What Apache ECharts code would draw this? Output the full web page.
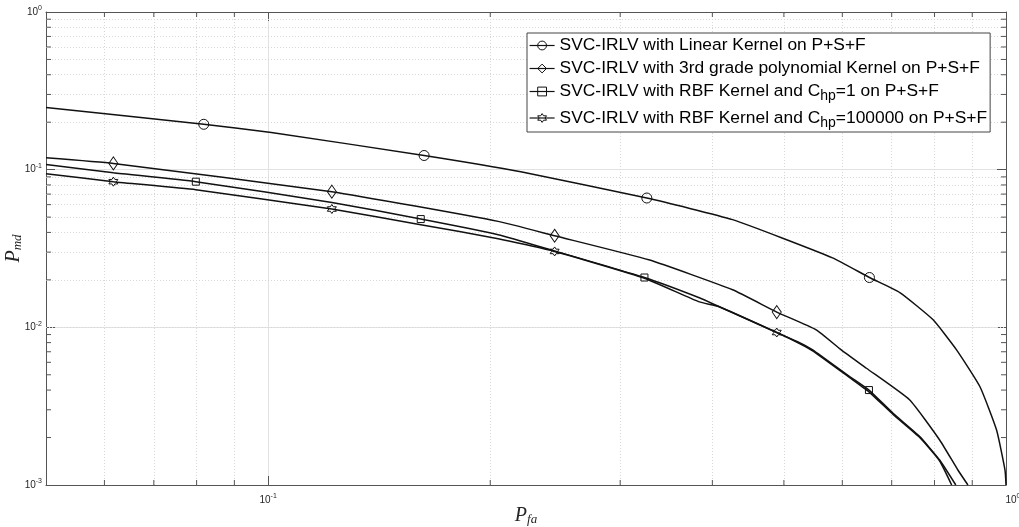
<!DOCTYPE html>
<html>
<head>
<meta charset="utf-8">
<script src="https://cdn.jsdelivr.net/npm/echarts@6/dist/echarts.min.js"></script>
<style>
    html, body { margin: 0; padding: 0; background: #fff; }
    #chart { width: 1019px; height: 527px; }
</style>
</head>
<body>
<div id="chart"></div>
<script>
// 曲线名称
var names = [
    'SVC-IRLV with Linear Kernel on P+S+F',
    'SVC-IRLV with 3rd grade polynomial Kernel on P+S+F',
    'SVC-IRLV with RBF Kernel and Chp=1 on P+S+F',
    'SVC-IRLV with RBF Kernel and Chp=100000 on P+S+F'
];

// Linear kernel
var linearX = [0.05, 0.0818, 0.101, 0.1627, 0.22, 0.326, 0.426, 0.582, 0.653, 0.718, 0.796, 0.857, 0.922, 0.971, 0.997, 1.0];
var linearY = [0.248, 0.194, 0.172, 0.123, 0.097, 0.0661, 0.0482, 0.0276, 0.0207, 0.0166, 0.0112, 0.0072, 0.0042, 0.00223, 0.00124, 0.001];
var linearMarks = [0.0818, 0.1627, 0.326, 0.653];

// 3rd grade polynomial
var polyX = [0.05, 0.0617, 0.122, 0.205, 0.2445, 0.328, 0.426, 0.489, 0.553, 0.598, 0.647, 0.740, 0.813, 0.861, 0.888];
var polyY = [0.119, 0.1096, 0.0725, 0.047, 0.0381, 0.0268, 0.0173, 0.0125, 0.00964, 0.0072, 0.0055, 0.00347, 0.00193, 0.00124, 0.001];
var polyMarks = [0.0617, 0.122, 0.2445, 0.489];

// RBF, Chp = 1
var rbf1X = [0.05, 0.0617, 0.0798, 0.122, 0.161, 0.205, 0.2445, 0.3236, 0.384, 0.408, 0.489, 0.525, 0.547, 0.614, 0.652, 0.703, 0.764, 0.813, 0.855];
var rbf1Y = [0.108, 0.0957, 0.0839, 0.062, 0.0486, 0.0387, 0.0305, 0.0207, 0.0154, 0.01355, 0.00927, 0.0080, 0.0072, 0.00487, 0.0040, 0.00285, 0.00203, 0.00144, 0.001];
var rbf1Marks = [0.0798, 0.161, 0.3236, 0.652];

// RBF, Chp = 100000
var rbf2X = [0.05, 0.0617, 0.0798, 0.122, 0.161, 0.205, 0.2445, 0.3236, 0.384, 0.408, 0.489, 0.525, 0.547, 0.614, 0.652, 0.703, 0.764, 0.813, 0.844];
var rbf2Y = [0.0943, 0.0839, 0.0746, 0.0563, 0.0448, 0.0365, 0.0303, 0.0205, 0.0145, 0.01355, 0.00927, 0.0079, 0.0071, 0.0048, 0.0039, 0.0028, 0.0020, 0.00142, 0.001];
var rbf2Marks = [0.0617, 0.122, 0.2445, 0.489];

// 次刻度
var xMinor = [0.06, 0.07, 0.08, 0.09, 0.2, 0.3, 0.4, 0.5, 0.6, 0.7, 0.8, 0.9];
var yMinor = [0.002, 0.003, 0.004, 0.005, 0.006, 0.007, 0.008, 0.009,
              0.02, 0.03, 0.04, 0.05, 0.06, 0.07, 0.08, 0.09,
              0.2, 0.3, 0.4, 0.5, 0.6, 0.7, 0.8, 0.9];

var hexagram = 'path://M0,-10L2.89,-5L8.66,-5L5.77,0L8.66,5L2.89,5L0,10L-2.89,5L-8.66,5L-5.77,0L-8.66,-5L-2.89,-5Z';
var axisColor = '#555';

function buildData(xs, ys, marks) {
    var out = [];
    for (var i = 0; i < xs.length; i++) {
        var item = { value: [xs[i], ys[i]] };
        if (marks.indexOf(xs[i]) < 0) item.symbol = 'none';
        out.push(item);
    }
    return out;
}

function curve(name, xs, ys, marks, symbol, size) {
    return {
        name: name,
        type: 'line',
        z: 10,
        symbol: symbol,
        symbolSize: size,
        showAllSymbol: true,
        smooth: 0.15,
        lineStyle: { color: '#111', width: 1.5 },
        itemStyle: { color: 'none', borderColor: '#111', borderWidth: 1 },
        emphasis: { disabled: true },
        data: buildData(xs, ys, marks)
    };
}

function powLabel(v, last) {
    var e = Math.round(Math.log10(v));
    if (Math.abs(Math.log10(v) - e) > 1e-6) return '';
    if (last && e === 0) return '{r|10}{sup|' + e + '}';
    return '{b|10}{sup|' + e + '}';
}

var labelRich = {
    b: { fontSize: 10, color: '#262626', fontFamily: 'Liberation Sans' },
    r: { fontSize: 10, color: '#262626', fontFamily: 'Liberation Sans', padding: [0, 0, 0, 14] },
    sup: { fontSize: 7, color: '#262626', fontFamily: 'Liberation Sans', padding: [0, 0, 7, 0] }
};

var nameRich = {
    p: { fontSize: 20, fontFamily: 'Liberation Serif', fontStyle: 'italic', color: '#262626' },
    s: { fontSize: 13, fontFamily: 'Liberation Serif', fontStyle: 'italic', color: '#262626', padding: [8, 0, 0, 0] }
};

var chart = echarts.init(document.getElementById('chart'));

var option = {
    animation: false,
    backgroundColor: '#fff',
    grid: { left: 46, right: 13, top: 12, bottom: 42, containLabel: false, outerBoundsMode: 'none' },
    legend: {
        data: names,
        orient: 'vertical',
        left: 527,
        top: 33,
        itemGap: 6,
        itemWidth: 25,
        itemHeight: 11,
        padding: [4, 3, 2, 2],
        borderColor: '#444',
        borderWidth: 1,
        backgroundColor: '#fff',
        selectedMode: false,
        itemStyle: { color: 'transparent', borderColor: '#111', borderWidth: 1 },
        lineStyle: { width: 1.2 },
        textStyle: {
            fontSize: 17.4,
            color: '#000',
            fontFamily: 'Liberation Sans',
            rich: {
                sub: { fontSize: 14, fontFamily: 'Liberation Sans', color: '#000', padding: [10, 0, 0, 0] }
            }
        },
        formatter: function (name) {
            return name.replace('Chp', 'C{sub|hp}');
        }
    },
    xAxis: [{
        type: 'log',
        min: 0.05,
        max: 1,
        position: 'bottom',
        name: '{p|P}{s|fa}',
        nameLocation: 'middle',
        nameGap: 20,
        nameMoveOverlap: false,
        nameTextStyle: { rich: nameRich },
        axisLine: { lineStyle: { color: axisColor } },
        axisTick: { inside: true, length: 9, lineStyle: { color: axisColor } },
        axisLabel: {
            margin: 8,
            showMinLabel: false,
            formatter: function (v) { return powLabel(v, true); },
            rich: labelRich
        },
        splitLine: { show: true, lineStyle: { color: '#e2e2e2' } }
    }, {
        type: 'log',
        min: 0.05,
        max: 1,
        position: 'top',
        axisLine: { lineStyle: { color: axisColor } },
        axisTick: { inside: true, length: 9, lineStyle: { color: axisColor } },
        axisLabel: { show: false },
        splitLine: { show: false }
    }],
    yAxis: [{
        type: 'log',
        min: 0.001,
        max: 1,
        position: 'left',
        name: '{p|P}{s|md}',
        nameLocation: 'middle',
        nameGap: 22,
        nameMoveOverlap: false,
        nameTextStyle: { rich: nameRich },
        axisLine: { lineStyle: { color: axisColor } },
        axisTick: { inside: true, length: 9, lineStyle: { color: axisColor } },
        axisLabel: {
            margin: 4,
            formatter: function (v) { return powLabel(v, false); },
            rich: labelRich
        },
        splitLine: { show: true, lineStyle: { color: '#e2e2e2' } }
    }, {
        type: 'log',
        min: 0.001,
        max: 1,
        position: 'right',
        axisLine: { lineStyle: { color: axisColor } },
        axisTick: { inside: true, length: 9, lineStyle: { color: axisColor } },
        axisLabel: { show: false },
        splitLine: { show: false }
    }],
    series: [
        // 次网格线
        {
            type: 'line',
            z: 1,
            data: [],
            markLine: {
                z: 1,
                silent: true,
                animation: false,
                symbol: ['none', 'none'],
                label: { show: false },
                lineStyle: { color: '#d8d8d8', type: [1, 2], width: 1 },
                emphasis: { disabled: true },
                data: xMinor.map(function (v) { return { xAxis: v }; })
                    .concat(yMinor.map(function (v) { return { yAxis: v }; }))
            }
        },
        curve(names[0], linearX, linearY, linearMarks, 'circle', 10),
        curve(names[1], polyX, polyY, polyMarks, 'diamond', [9, 13]),
        curve(names[2], rbf1X, rbf1Y, rbf1Marks, 'rect', 7),
        curve(names[3], rbf2X, rbf2Y, rbf2Marks, hexagram, 9)
    ]
};

chart.setOption(option);

// 次刻度线
var ticks = [];
function tickLine(x1, y1, x2, y2) {
    ticks.push({
        type: 'line', silent: true, z: 20,
        shape: { x1: x1, y1: y1, x2: x2, y2: y2 },
        style: { stroke: axisColor, lineWidth: 1 }
    });
}
var finder = { xAxisIndex: 0, yAxisIndex: 0 };
xMinor.forEach(function (v) {
    var b = chart.convertToPixel(finder, [v, 0.001]);
    var t = chart.convertToPixel(finder, [v, 1]);
    tickLine(b[0], b[1], b[0], b[1] - 5);
    tickLine(t[0], t[1], t[0], t[1] + 5);
});
yMinor.forEach(function (v) {
    var l = chart.convertToPixel(finder, [0.05, v]);
    var r = chart.convertToPixel(finder, [1, v]);
    tickLine(l[0], l[1], l[0] + 5, l[1]);
    tickLine(r[0], r[1], r[0] - 5, r[1]);
});
chart.setOption({ graphic: ticks });
</script>
</body>
</html>
